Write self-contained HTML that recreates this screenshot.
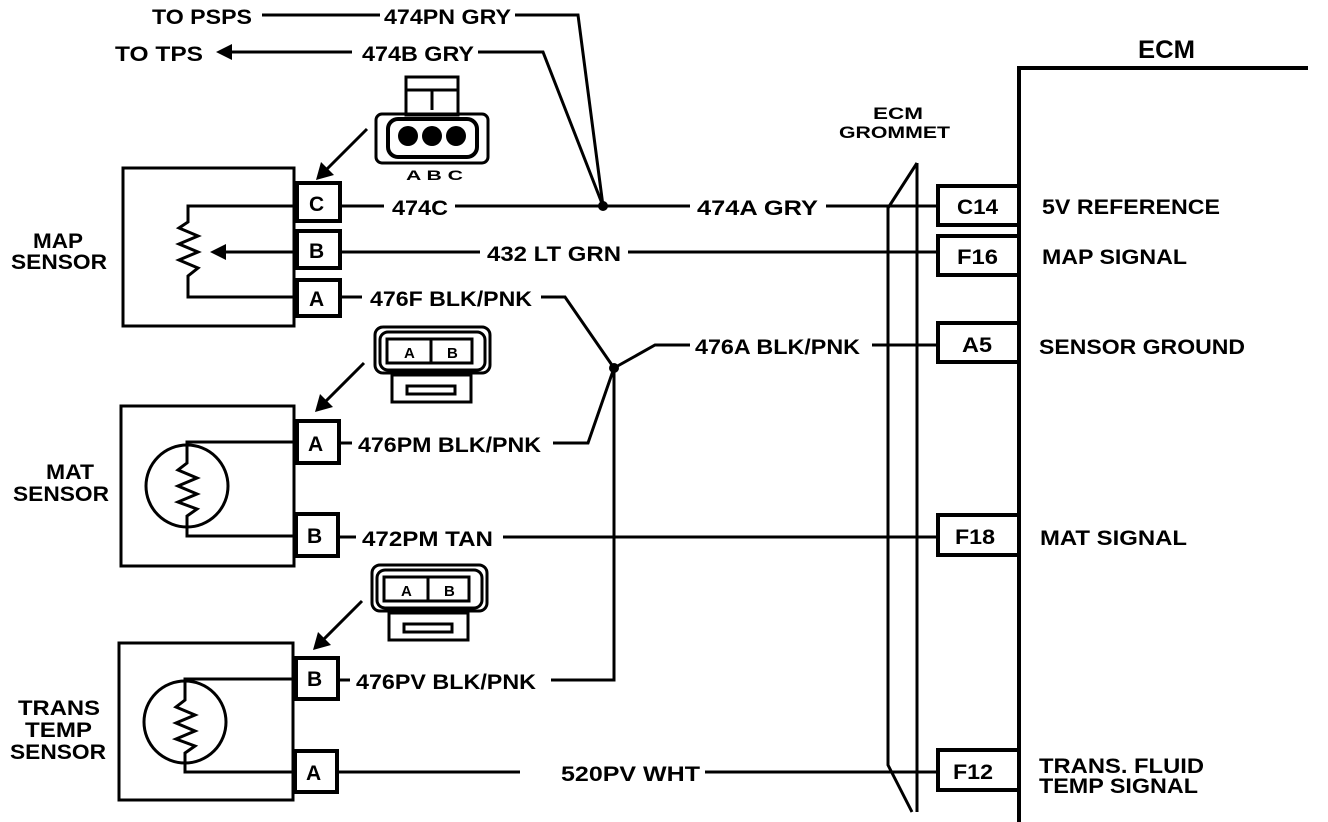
<!DOCTYPE html>
<html><head><meta charset="utf-8"><style>
html,body{margin:0;padding:0;background:#fff}
svg{display:block}
text{font-family:"Liberation Sans",Arial,sans-serif;font-weight:bold;font-size:21px;fill:#000}
</style></head><body>
<svg width="1328" height="822" viewBox="0 0 1328 822" xmlns="http://www.w3.org/2000/svg">
<g fill="none" stroke="#000" stroke-width="3">
<!-- ECM -->
<path d="M1019 822 V68 H1308" stroke-width="4"/>
<!-- grommet -->
<path d="M917 163 L888 208 V765 L912 812"/>
<path d="M917 163 V812"/>
<!-- ECM pin boxes -->
<path d="M1018 186 H938 V225 H1018" stroke-width="4"/>
<path d="M1018 236 H938 V275 H1018" stroke-width="4"/>
<path d="M1018 323 H938 V362 H1018" stroke-width="4"/>
<path d="M1018 515 H938 V555 H1018" stroke-width="4"/>
<path d="M1018 750 H938 V790 H1018" stroke-width="4"/>
<!-- sensor boxes -->
<rect x="123" y="168" width="171" height="158"/>
<rect x="121" y="406" width="173" height="160"/>
<rect x="119" y="643" width="174" height="157"/>
<!-- pins -->
<rect x="297" y="183" width="43" height="38" stroke-width="4"/>
<rect x="297" y="231" width="43" height="37" stroke-width="4"/>
<rect x="297" y="280" width="43" height="36" stroke-width="4"/>
<rect x="297" y="421" width="42" height="42" stroke-width="4"/>
<rect x="296" y="514" width="42" height="42" stroke-width="4"/>
<rect x="296" y="658" width="42" height="41" stroke-width="4"/>
<rect x="295" y="751" width="42" height="41" stroke-width="4"/>
<!-- MAP resistor -->
<path d="M296 206 H188 V222 L179 228 L198 236 L179 244 L198 252 L179 260 L198 268 L188 276 V297 H296"/>
<path d="M296 252 H222"/>
<!-- MAT -->
<circle cx="187" cy="486" r="41"/>
<path d="M296 442 H187 V463 L178 470 L197 478 L178 486 L197 494 L178 502 L197 509 L187 516 V536 H296"/>
<!-- Trans -->
<circle cx="185" cy="722" r="41"/>
<path d="M296 679 H185 V700 L176 707 L195 715 L176 723 L195 731 L176 739 L195 746 L185 753 V772 H296"/>
<!-- wires -->
<path d="M340 206 H384 M455 206 H690 M826 206 H937"/>
<path d="M603 206 L578 15 H515 M380 15 H262"/>
<path d="M603 206 L543 52 H478 M352 52 H228"/>
<path d="M340 252 H480 M628 252 H937"/>
<path d="M340 297 H362 M541 297 H565 L614 368 L588 443 H553 M339 443 H352"/>
<path d="M614 368 L655 345 H690 M872 345 H937"/>
<path d="M614 368 V680 H551 M338 680 H350"/>
<path d="M338 537 H356 M503 537 H937"/>
<path d="M337 772 H520 M705 772 H937"/>
<!-- arrows from connectors -->
<path d="M367 129 L325 171 M364 363 L323 404 M362 601 L321 642"/>
<!-- MAP connector -->
<rect x="406" y="77" width="52" height="38"/>
<path d="M406 90 H458 M432 90 V110"/>
<rect x="376" y="114" width="112" height="49" rx="6"/>
<rect x="388" y="119" width="89" height="38" rx="10" stroke-width="4"/>
<!-- MAT connector -->
<rect x="375" y="327" width="115" height="46" rx="8"/>
<rect x="380" y="332" width="105" height="38" rx="8"/>
<rect x="387" y="339" width="85" height="24"/>
<path d="M431 339 V363"/>
<rect x="392" y="375" width="79" height="27"/>
<rect x="407" y="386" width="48" height="8"/>
<!-- Trans connector -->
<rect x="372" y="565" width="115" height="46" rx="8"/>
<rect x="377" y="570" width="105" height="38" rx="8"/>
<rect x="384" y="577" width="85" height="24"/>
<path d="M428 577 V601"/>
<rect x="389" y="613" width="79" height="27"/>
<rect x="404" y="624" width="48" height="8"/>
</g>
<g fill="#000">
<circle cx="603" cy="206" r="5"/>
<circle cx="614" cy="368" r="5"/>
<circle cx="408" cy="136" r="10"/><circle cx="432" cy="136" r="10"/><circle cx="456" cy="136" r="10"/>
<polygon points="210,252 226,244 226,260"/>
<polygon points="216,52 232,44 232,60"/>
<polygon points="316,180 321,162 334,175"/>
<polygon points="315,412 320,394 333,407"/>
<polygon points="313,650 318,632 331,645"/>
</g>
<g>
<text x="152" y="24" textLength="100" lengthAdjust="spacingAndGlyphs">TO PSPS</text>
<text x="384" y="24" textLength="127" lengthAdjust="spacingAndGlyphs">474PN GRY</text>
<text x="115" y="61" textLength="88" lengthAdjust="spacingAndGlyphs">TO TPS</text>
<text x="362" y="61" textLength="112" lengthAdjust="spacingAndGlyphs">474B GRY</text>
<text x="406" y="180" style="font-size:14px" textLength="57" lengthAdjust="spacingAndGlyphs">A B C</text>
<text x="392" y="215" textLength="56" lengthAdjust="spacingAndGlyphs">474C</text>
<text x="697" y="215" textLength="121" lengthAdjust="spacingAndGlyphs">474A GRY</text>
<text x="487" y="261" textLength="134" lengthAdjust="spacingAndGlyphs">432 LT GRN</text>
<text x="370" y="306" textLength="162" lengthAdjust="spacingAndGlyphs">476F BLK/PNK</text>
<text x="695" y="354" textLength="165" lengthAdjust="spacingAndGlyphs">476A BLK/PNK</text>
<text x="358" y="452" textLength="183" lengthAdjust="spacingAndGlyphs">476PM BLK/PNK</text>
<text x="362" y="546" textLength="131" lengthAdjust="spacingAndGlyphs">472PM TAN</text>
<text x="356" y="689" textLength="180" lengthAdjust="spacingAndGlyphs">476PV BLK/PNK</text>
<text x="561" y="781" textLength="139" lengthAdjust="spacingAndGlyphs">520PV WHT</text>
<text x="404" y="358" style="font-size:15px">A</text><text x="447" y="358" style="font-size:15px">B</text>
<text x="401" y="596" style="font-size:15px">A</text><text x="444" y="596" style="font-size:15px">B</text>
<text x="309" y="211">C</text><text x="309" y="258">B</text><text x="309" y="306">A</text>
<text x="308" y="451">A</text><text x="307" y="543">B</text><text x="307" y="686">B</text><text x="306" y="780">A</text>
<text x="1138" y="58" style="font-size:25px" textLength="57" lengthAdjust="spacingAndGlyphs">ECM</text>
<text x="873" y="119" style="font-size:17px" textLength="50" lengthAdjust="spacingAndGlyphs">ECM</text>
<text x="839" y="138" style="font-size:17px" textLength="111" lengthAdjust="spacingAndGlyphs">GROMMET</text>
<text x="957" y="214" textLength="41" lengthAdjust="spacingAndGlyphs">C14</text>
<text x="957" y="264" textLength="41" lengthAdjust="spacingAndGlyphs">F16</text>
<text x="962" y="352" textLength="30" lengthAdjust="spacingAndGlyphs">A5</text>
<text x="955" y="544" textLength="40" lengthAdjust="spacingAndGlyphs">F18</text>
<text x="953" y="779" textLength="40" lengthAdjust="spacingAndGlyphs">F12</text>
<text x="1042" y="214" textLength="178" lengthAdjust="spacingAndGlyphs">5V REFERENCE</text>
<text x="1042" y="264" textLength="145" lengthAdjust="spacingAndGlyphs">MAP SIGNAL</text>
<text x="1039" y="354" textLength="206" lengthAdjust="spacingAndGlyphs">SENSOR GROUND</text>
<text x="1040" y="545" textLength="147" lengthAdjust="spacingAndGlyphs">MAT SIGNAL</text>
<text x="1039" y="773" textLength="165" lengthAdjust="spacingAndGlyphs">TRANS. FLUID</text>
<text x="1039" y="793" textLength="159" lengthAdjust="spacingAndGlyphs">TEMP SIGNAL</text>
<text x="33" y="248" textLength="50" lengthAdjust="spacingAndGlyphs">MAP</text>
<text x="11" y="269" textLength="96" lengthAdjust="spacingAndGlyphs">SENSOR</text>
<text x="46" y="479" textLength="48" lengthAdjust="spacingAndGlyphs">MAT</text>
<text x="13" y="501" textLength="96" lengthAdjust="spacingAndGlyphs">SENSOR</text>
<text x="18" y="715" textLength="82" lengthAdjust="spacingAndGlyphs">TRANS</text>
<text x="25" y="737" textLength="67" lengthAdjust="spacingAndGlyphs">TEMP</text>
<text x="10" y="759" textLength="96" lengthAdjust="spacingAndGlyphs">SENSOR</text>
</g>
</svg>
</body></html>
